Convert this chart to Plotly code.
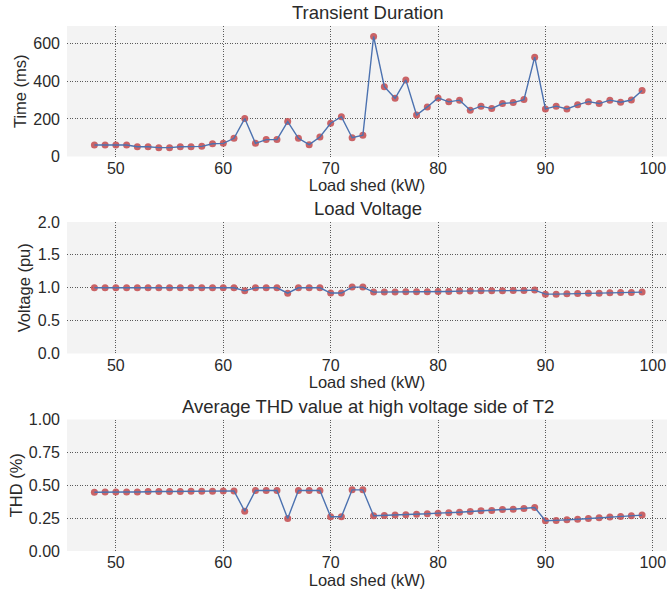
import plotly.graph_objects as go

load_shed = list(range(48, 100))

time_ms = [61, 61, 61, 61, 52, 52, 47, 47, 52, 52,
           54, 68, 70, 97, 202, 70, 90, 90, 186, 97,
           63, 104, 177, 212, 100, 113, 639, 372, 310, 408,
           221, 264, 312, 291, 300, 246, 268, 255, 282, 287,
           303, 529, 253, 268, 253, 275, 292, 282, 300, 289,
           301, 351]

voltage_pu = [1.0, 1.0, 1.0, 1.0, 1.0, 1.0, 1.0, 1.0, 1.0, 1.0,
              1.0, 1.0, 1.0, 1.0, 0.953, 1.0, 1.0, 1.0, 0.918, 1.0,
              1.0, 1.0, 0.92, 0.92, 1.01, 1.01, 0.934, 0.934, 0.934, 0.939,
              0.939, 0.939, 0.944, 0.944, 0.949, 0.949, 0.954, 0.954, 0.954, 0.959,
              0.959, 0.964, 0.903, 0.903, 0.908, 0.913, 0.918, 0.918, 0.923, 0.929,
              0.929, 0.934]

thd_pct = [0.447, 0.449, 0.449, 0.449, 0.449, 0.452, 0.452, 0.452, 0.452, 0.455,
           0.455, 0.455, 0.457, 0.457, 0.303, 0.46, 0.46, 0.46, 0.247, 0.46,
           0.46, 0.46, 0.26, 0.26, 0.465, 0.465, 0.268, 0.27, 0.273, 0.275,
           0.28, 0.283, 0.288, 0.29, 0.295, 0.30, 0.306, 0.308, 0.316, 0.318,
           0.323, 0.331, 0.23, 0.232, 0.237, 0.242, 0.247, 0.253, 0.258, 0.263,
           0.268, 0.273]

titles = ["Transient Duration", "Load Voltage", "Average THD value at high voltage side of T2"]
ylabels = ["Time (ms)", "Voltage (pu)", "THD (%)"]
xlabel = "Load shed (kW)"
yranges = [[0, 695], [0, 2.0], [0, 1.0]]
ytickvals = [[0, 200, 400, 600], [0, 0.5, 1.0, 1.5, 2.0], [0, 0.25, 0.5, 0.75, 1.0]]
yticktext = [["0", "200", "400", "600"], ["0.0", "0.5", "1.0", "1.5", "2.0"],
             ["0.00", "0.25", "0.50", "0.75", "1.00"]]
xticks = [50, 60, 70, 80, 90, 100]

W, H = 667, 595
# panel pixel extents (top, bottom)
panels_px = [(26, 156.5), (222, 353.5), (419.5, 551)]
x_left = 67

FONT = "Liberation Sans, Arial, sans-serif"
TXT = "#2a2a2a"
BG = "#f3f3f3"
GRID = "#5a5a5a"

fig = go.Figure()
series = [time_ms, voltage_pu, thd_pct]

for i, ys in enumerate(series):
    n = "" if i == 0 else str(i + 1)
    xa = "x" + n
    ya = "y" + n
    fig.add_trace(go.Scatter(x=load_shed, y=ys, mode="markers", xaxis=xa, yaxis=ya,
                             marker=dict(color="rgba(196,78,82,0.88)", size=7, line=dict(width=0)),
                             showlegend=False, hoverinfo="skip"))
    fig.add_trace(go.Scatter(x=load_shed, y=ys, mode="lines", xaxis=xa, yaxis=ya,
                             line=dict(color="#4c72b0", width=1.4),
                             showlegend=False))
    top, bot = panels_px[i]
    dom = [1 - bot / H, 1 - top / H]
    axis_common = dict(showline=False, zeroline=False, ticks="", automargin=False,
                       showgrid=True, gridcolor=GRID, griddash="1px,1.5px", gridwidth=1,
                       tickfont=dict(family=FONT, size=16, color=TXT))
    fig.layout["xaxis" + n] = dict(domain=[x_left / W, 1], range=[45.45, 101.32],
                                   anchor=ya, tickvals=xticks,
                                   title=dict(text=xlabel, font=dict(family=FONT, size=16.5, color=TXT), standoff=2),
                                   **axis_common)
    fig.layout["yaxis" + n] = dict(domain=dom, range=yranges[i], anchor=xa,
                                   tickvals=ytickvals[i], ticktext=yticktext[i],
                                   ticklabelstandoff=6,
                                   title=dict(text=ylabels[i], font=dict(family=FONT, size=16.5, color=TXT), standoff=2),
                                   **axis_common)
    fig.add_annotation(text=titles[i], xref="paper", yref="paper",
                       x=(x_left + 669.5) / 2 / W, y=dom[1], xanchor="center", yanchor="bottom",
                       yshift=1, showarrow=False,
                       font=dict(family=FONT, size=18.5, color=TXT))
    fig.add_shape(type="rect", xref="paper", yref="paper", x0=x_left / W, x1=1.01,
                  y0=dom[0], y1=dom[1], fillcolor=BG, line=dict(width=0), layer="below")

fig.update_layout(width=W, height=H, margin=dict(l=0, r=0, t=0, b=0),
                  paper_bgcolor="white", plot_bgcolor="rgba(0,0,0,0)",
                  font=dict(family=FONT, color=TXT))

fig.write_html("out.html")
